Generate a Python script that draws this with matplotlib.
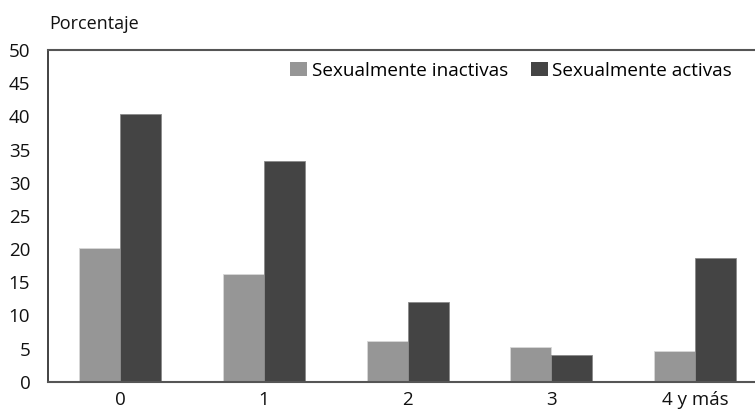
import matplotlib
matplotlib.use("Agg")
import matplotlib.pyplot as plt
import numpy as np
from matplotlib.patches import Patch

categories = ["0", "1", "2", "3", "4 y más"]
inactivas = [20.2, 16.2, 6.2, 5.2, 4.7]
activas = [40.3, 33.2, 12.0, 4.0, 18.7]
series_names = ["Sexualmente inactivas", "Sexualmente activas"]
yticks = [0, 5, 10, 15, 20, 25, 30, 35, 40, 45, 50]

plt.rcParams['font.family'] = ['Open Sans', 'DejaVu Sans']

c_in = "#969696"
c_ac = "#444444"

fig = plt.figure(figsize=(7.55, 4.16), dpi=100)
ax = fig.add_axes([0.064, 0.0825, 1.0156 - 0.064, 0.8798 - 0.0825])

x = np.arange(len(categories))
w = 0.285
ax.bar(x - w/2, inactivas, w, color=c_in, edgecolor="#d8d8d8", linewidth=0.6)
ax.bar(x + w/2, activas, w, color=c_ac, edgecolor="#8a8a8a", linewidth=0.6)

ax.set_xlim(-0.5, 4.5)
ax.set_ylim(0, 50)
ax.set_yticks(yticks)
ax.set_xticks(x)
ax.set_xticklabels(categories)
ax.tick_params(axis='both', length=0, labelsize=13.5, colors="#111111")
ax.tick_params(axis='y', pad=13)
ax.tick_params(axis='x', pad=7)

ax.spines['right'].set_visible(False)
ax.spines['left'].set_color("#222222")
ax.spines['left'].set_linewidth(1.2)
ax.spines['top'].set_color("#555555")
ax.spines['top'].set_linewidth(1.5)
ax.spines['bottom'].set_color("#555555")
ax.spines['bottom'].set_linewidth(1.5)

fig.text(49/755, 1 - 24/416, "Porcentaje", fontsize=13, va='center', ha='left', color="#111111")

handles = [Patch(facecolor=c_in, edgecolor='none'), Patch(facecolor=c_ac, edgecolor='none')]
ax.legend(handles, series_names, loc='center left', bbox_to_anchor=(290/755, 1 - 71/416),
          bbox_transform=fig.transFigure, ncol=2, frameon=False, fontsize=13.6,
          handlelength=0.9, handleheight=0.75, handletextpad=0.25, columnspacing=1.2,
          borderpad=0, borderaxespad=0)

fig.savefig("out.png", dpi=100)
